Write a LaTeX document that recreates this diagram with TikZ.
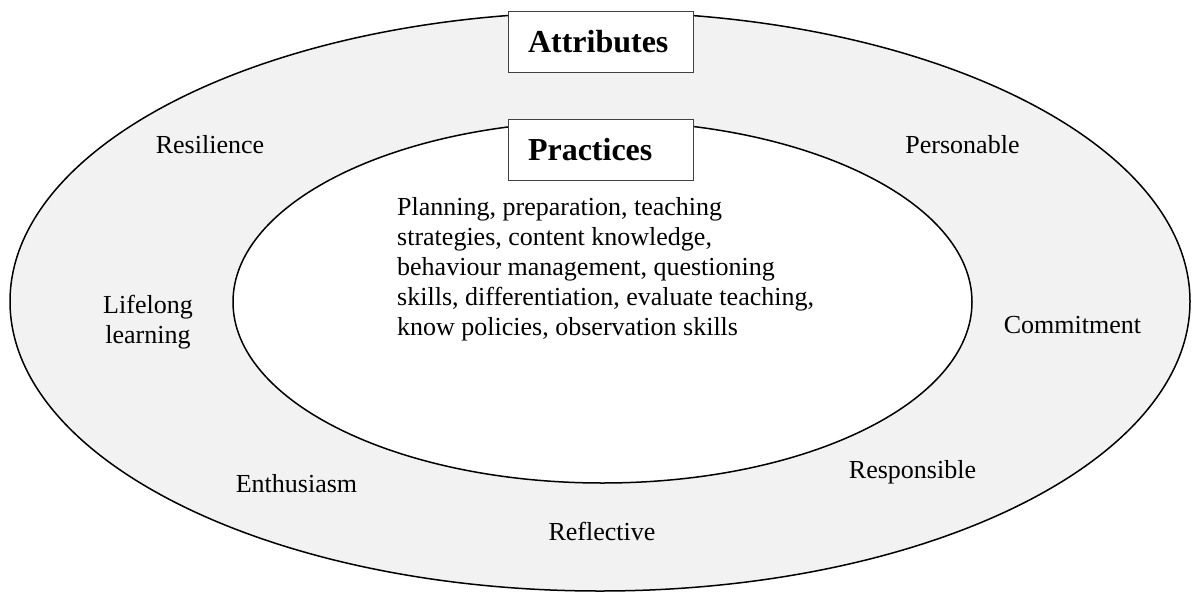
\documentclass[tikz,border=0pt]{standalone}
\usepackage{fontspec}
\setmainfont{Liberation Serif}
\definecolor{ringgray}{HTML}{F2F2F2}
\definecolor{boxline}{HTML}{404040}
\tikzset{
  ring/.style={line width=1.5pt, draw=black},
  titlebox/.style={draw=boxline, line width=1pt, fill=white, rectangle,
    minimum width=185pt, minimum height=61pt, inner xsep=20pt, inner ysep=0pt,
    text width=145pt, align=left, font=\fontsize{32}{36}\selectfont\bfseries},
  attr/.style={inner sep=0pt, anchor=base, font=\fontsize{26}{30}\selectfont},
}
\begin{document}
\begin{tikzpicture}[x=1pt, y=-1pt]
\useasboundingbox (0,0) rectangle (1192,592);
% outer ring
\draw[ring, fill=ringgray] (600,301.5) ellipse [x radius=590pt, y radius=289.5pt];
% inner ellipse
\draw[ring, fill=white] (602.5,302) ellipse [x radius=369.5pt, y radius=181pt];
% boxes
\node[titlebox] (attributes) at (600.5,41.5) {Attributes};
\node[titlebox] (practices) at (600.5,149.5) {Practices};
% attributes
\node[attr] (resilience) at (210,153) {Resilience};
\node[attr] (personable) at (962.5,153) {Personable};
\node[attr] (lifelong) at (148,313) {\begin{tabular}[t]{@{}c@{}}Lifelong\\learning\end{tabular}};
\node[attr] (commitment) at (1072.5,333) {Commitment};
\node[attr] (enthusiasm) at (296.5,492) {Enthusiasm};
\node[attr] (responsible) at (912.5,478) {Responsible};
\node[attr] (reflective) at (602,540) {Reflective};
% practices list
\node[attr, anchor=base west] (practicelist) at (397,215) {\begin{tabular}[t]{@{}l@{}}Planning, preparation, teaching\\strategies, content knowledge,\\behaviour management, questioning\\skills, differentiation, evaluate teaching,\\know policies, observation skills\end{tabular}};
\end{tikzpicture}
\end{document}
